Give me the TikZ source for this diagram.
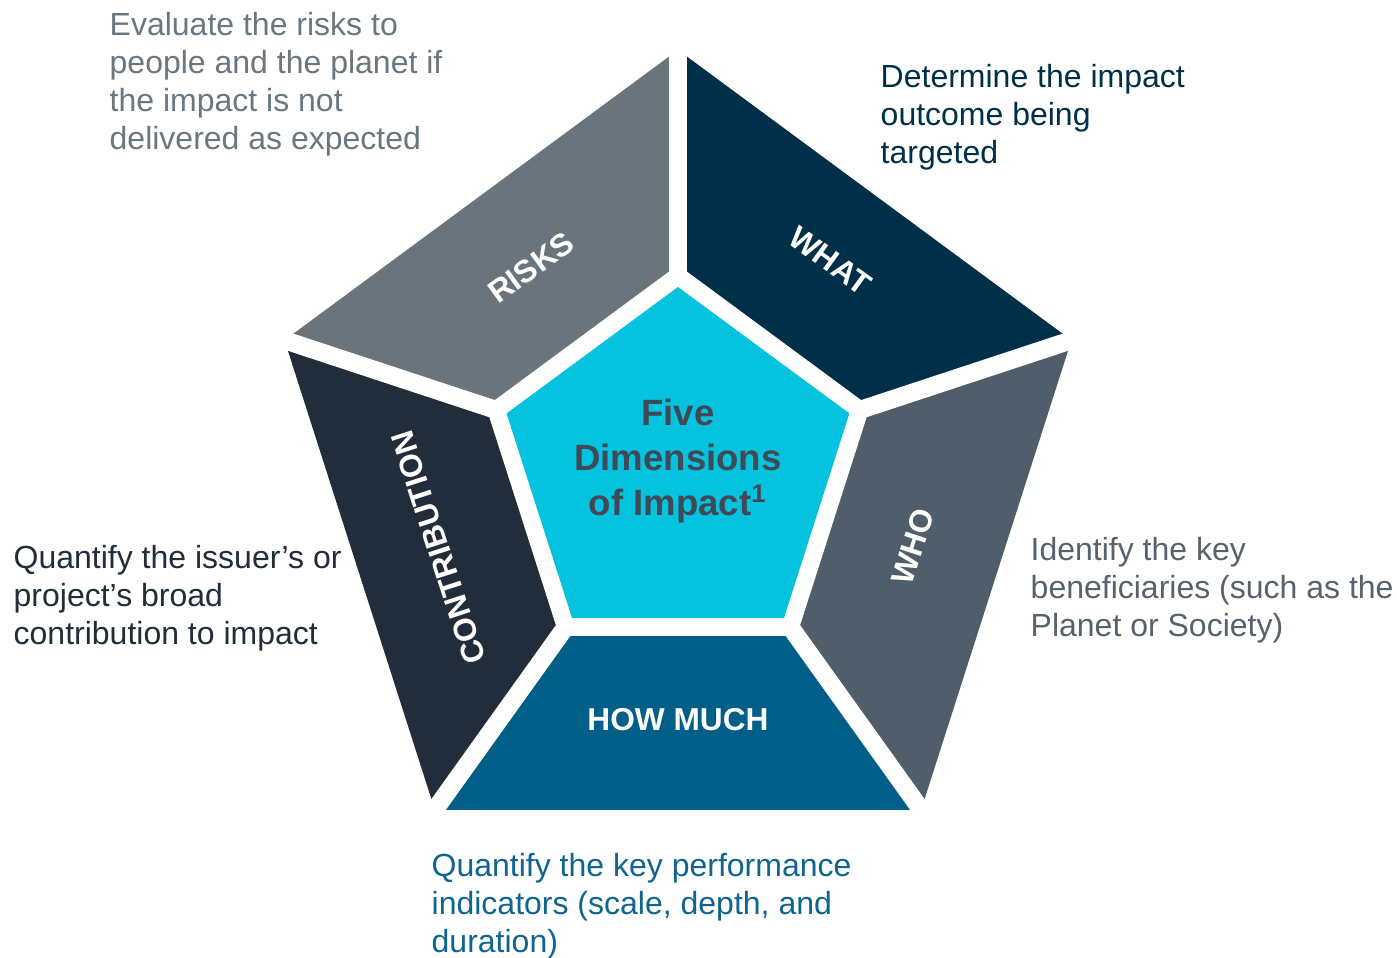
\documentclass[tikz,border=0pt]{standalone}
\usepackage{fontspec}
\setmainfont{Liberation Sans}
\usetikzlibrary{positioning}

\definecolor{risksgray}{HTML}{69747D}
\definecolor{whatnavy}{HTML}{003049}
\definecolor{whoslate}{HTML}{505E6B}
\definecolor{howblue}{HTML}{005F88}
\definecolor{contribnavy}{HTML}{212D3B}
\definecolor{centrecyan}{HTML}{05C3DE}
\definecolor{centretext}{HTML}{3F4A56}
\definecolor{risksdesc}{HTML}{6A7780}
\definecolor{whodesc}{HTML}{56636E}
\definecolor{howdesc}{HTML}{0E6590}

\tikzset{
  seglabel/.style={text=white, inner sep=0pt, font=\fontsize{9}{10.8}\selectfont\bfseries},
  desc/.style={anchor=north west, align=left, inner sep=0pt, font=\fontsize{9.1}{10.8}\selectfont},
}

\begin{document}
\begin{tikzpicture}[x=0.01cm, y=0.01cm]
    \useasboundingbox (-678,-488) rectangle (719,470);
    \begin{scope}[xscale=0.985]
    % Cinc segments exteriors
    \foreach \a/\col in {90/risksgray, 162/contribnavy, 234/howblue, 306/whoslate, 18/whatnavy}
        \fill[\col] (0,0) -- (\a:420) -- (\a+72:420) -- cycle;
    % Separacions blanques
    \fill[white] (90:205) -- (162:205) -- (234:205) -- (306:205) -- (18:205) -- cycle;
    \foreach \a in {90, 162, 234, 306, 18}
        \draw[white, line width=0.18cm] (0,0) -- (\a:470);
    % Pentagon central
    \fill[centrecyan] (90:183) -- (162:183) -- (234:183) -- (306:183) -- (18:183) -- cycle;
    \end{scope}
    \node[align=center, inner sep=0pt, text=centretext, font=\fontsize{10.4}{12.8}\selectfont\bfseries]
        (centre) at (0,9) {Five\\Dimensions\\of Impact\textsuperscript{1}};
    % Etiquetes dels segments
    \node[seglabel, rotate=36] (risks) at (126:250) {RISKS};
    \node[seglabel, rotate=-36] (what) at (54:259) {WHAT};
    \node[seglabel, rotate=72] (who) at (-18:247) {WHO};
    \node[seglabel] (howmuch) at (270:250) {HOW MUCH};
    \node[seglabel, rotate=108] (contribution) at (198:252) {CONTRIBUTION};
    % Descripcions
    \node[desc, text=risksdesc] (risks-desc) at (-569,458)
        {Evaluate the risks to\\people and the planet if\\the impact is not\\delivered as expected};
    \node[desc, text=whatnavy] (what-desc) at (202,406)
        {Determine the impact\\outcome being\\targeted};
    \node[desc, text=whodesc] (who-desc) at (352,-67)
        {Identify the key\\beneficiaries (such as the\\Planet or Society)};
    \node[desc, text=howdesc] (howmuch-desc) at (-247,-383)
        {Quantify the key performance\\indicators (scale, depth, and\\duration)};
    \node[desc, text=contribnavy] (contribution-desc) at (-665,-75)
        {Quantify the issuer’s or\\project’s broad\\contribution to impact};
\end{tikzpicture}
\end{document}
